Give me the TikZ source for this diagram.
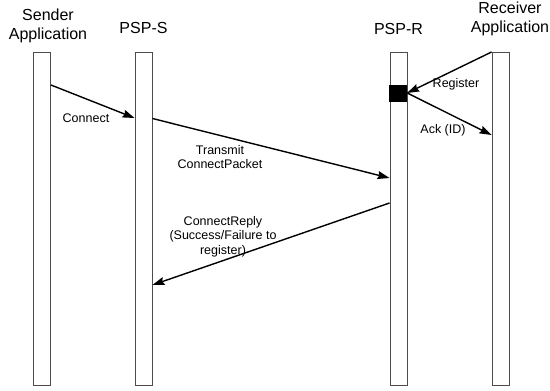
\documentclass[tikz,border=0pt]{standalone}
\usepackage{fontspec}
\setmainfont{Liberation Sans}
\usetikzlibrary{arrows.meta}

\begin{document}
\begin{tikzpicture}[
		x=1pt, y=-1pt,
		lifeline/.style={rectangle, draw=black!70, line width=0.9pt, minimum width=17pt, minimum height=333pt, anchor=north, inner sep=0pt},
		head/.style={align=center, inner sep=0pt, font=\fontsize{16}{19}\selectfont},
		msg/.style={align=center, inner sep=0pt, font=\fontsize{12.5}{14.5}\selectfont},
		call/.style={line width=1.4pt, -{Stealth[length=12pt, width=8pt, inset=1.5pt]}}
	]
  \useasboundingbox (0,0) rectangle (550,391);
  % lifelines
  \node (snd) [lifeline] at (42, 52) {};
  \node (psps) [lifeline] at (143.5, 52) {};
  \node (pspr) [lifeline] at (398.5, 52) {};
  \node (rcv) [lifeline] at (500.5, 52) {};
  \node (reg) [rectangle, fill=black, minimum width=18pt, minimum height=17pt, inner sep=0pt] at (398, 93) {};
  % headings
  \node (snd_label) [head] at (48, 25.5) {Sender\\Application};
  \node (psps_label) [head] at (143.5, 28) {PSP-S};
  \node (pspr_label) [head] at (398.5, 29) {PSP-R};
  \node (rcv_label) [head] at (510, 19) {Receiver\\Application};
  % message end points
  \coordinate (connect_a) at (snd.east |- 0,85);
  \coordinate (connect_b) at (psps.west |- 0,118);
  \coordinate (transmit_a) at (psps.east |- 0,118.5);
  \coordinate (transmit_b) at (pspr.west |- 0,178);
  \coordinate (register_a) at (rcv.north west);
  \coordinate (ack_b) at (rcv.west |- 0,135);
  \coordinate (reply_a) at (pspr.west |- 0,203);
  \coordinate (reply_b) at (psps.east |- 0,285);
  % messages
  \draw [call] (connect_a) -- (connect_b);
  \draw [call] (transmit_a) -- (transmit_b);
  \draw [call] (register_a) -- (reg.east);
  \draw [call] (reg.east) -- (ack_b);
  \draw [call] (reply_a) -- (reply_b);
  \node (connect_label) [msg] at (86, 118) {Connect};
  \node (transmit_label) [msg] at (220, 157) {Transmit\\ConnectPacket};
  \node (register_label) [msg] at (456, 84) {Register};
  \node (ack_label) [msg] at (443, 130) {Ack (ID)};
  \node (reply_label) [msg] at (223, 236.5) {ConnectReply\\(Success/Failure to\\register)};
\end{tikzpicture}
\end{document}
